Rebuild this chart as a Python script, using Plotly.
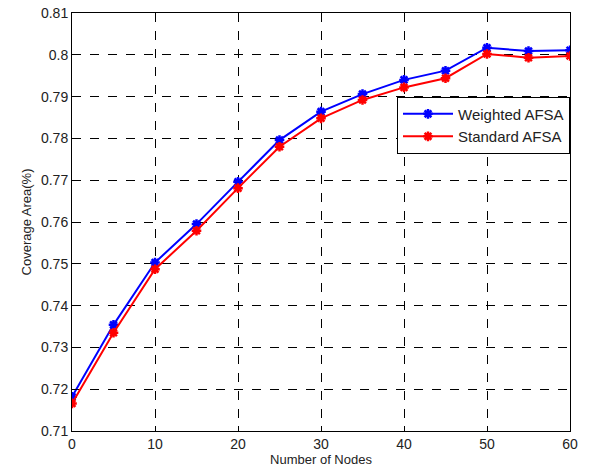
import plotly.graph_objects as go

nodes = [0, 5, 10, 15, 20, 25, 30, 35, 40, 45, 50, 55, 60]
weighted_afsa = [0.7182, 0.7354, 0.7503, 0.7595, 0.7696, 0.7796, 0.7864, 0.7906, 0.7940, 0.7962, 0.8017, 0.8009, 0.8011]
standard_afsa = [0.7166, 0.7335, 0.7487, 0.7579, 0.7681, 0.7780, 0.7848, 0.7892, 0.7922, 0.7944, 0.8002, 0.7993, 0.7997]

x_ticks = [0, 10, 20, 30, 40, 50, 60]
y_ticks = [0.71, 0.72, 0.73, 0.74, 0.75, 0.76, 0.77, 0.78, 0.79, 0.80, 0.81]
y_labels = ["0.71", "0.72", "0.73", "0.74", "0.75", "0.76", "0.77", "0.78", "0.79", "0.8", "0.81"]

FONT = "Liberation Sans, Arial, sans-serif"

fig = go.Figure()
fig.add_trace(go.Scatter(x=nodes, y=weighted_afsa, mode="lines+markers", name="Weighted AFSA",
                         line=dict(color="#0000ff", width=2),
                         marker=dict(symbol="asterisk-open", size=8, line=dict(color="#0000ff", width=2.5))))
fig.add_trace(go.Scatter(x=nodes, y=standard_afsa, mode="lines+markers", name="Standard AFSA",
                         line=dict(color="#ff0000", width=2),
                         marker=dict(symbol="asterisk-open", size=8, line=dict(color="#ff0000", width=2.5))))

axis_common = dict(showline=True, linecolor="black", linewidth=1, mirror=True,
                   showgrid=True, gridcolor="black", griddash="dash", gridwidth=1,
                   ticks="inside", ticklen=5, tickcolor="black", zeroline=False,
                   automargin=False,
                   tickfont=dict(family=FONT, size=14, color="#222"))

fig.update_xaxes(range=[0, 60], tickvals=x_ticks, **axis_common,
                 title=dict(text="Number of Nodes", standoff=4,
                            font=dict(family=FONT, size=13, color="#222")))
fig.update_yaxes(range=[0.71, 0.81], tickvals=y_ticks, ticktext=y_labels, **axis_common,
                 title=dict(text="Coverage Area(%)", standoff=6,
                            font=dict(family=FONT, size=13, color="#222")))

fig.update_layout(
    width=593, height=473,
    margin=dict(l=72, r=23, t=13, b=42),
    paper_bgcolor="white", plot_bgcolor="white",
    showlegend=True,
    legend=dict(x=1, y=0.8, xanchor="right", yanchor="top",
                bgcolor="white", bordercolor="black", borderwidth=1,
                font=dict(family=FONT, size=15, color="#222"),
                itemwidth=50, tracegroupgap=0),
)

fig.write_html("out.html", config={"displayModeBar": False},
               post_script="document.body.style.margin='0';document.body.style.overflow='hidden';")
